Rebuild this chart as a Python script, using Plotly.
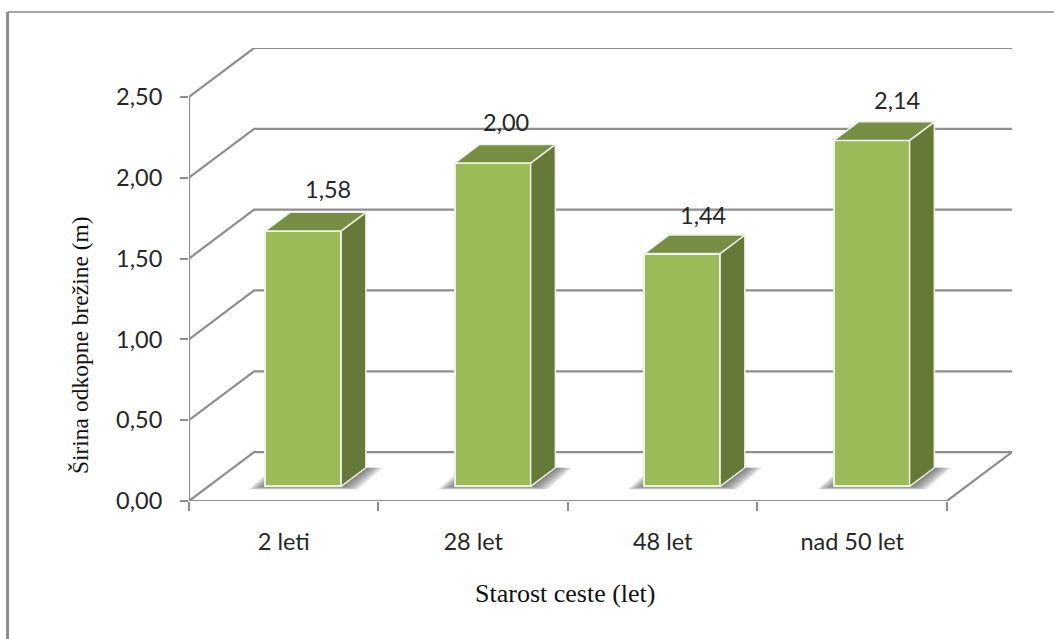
import plotly.graph_objects as go

# Chart data
categories = ["2 leti", "28 let", "48 let", "nad 50 let"]
widths_m = [1.58, 2.00, 1.44, 2.14]
value_ticks = [0.0, 0.5, 1.0, 1.5, 2.0, 2.5]
x_title = "Starost ceste (let)"
y_title = "Širina odkopne brežine (m)"

# Hand-placed value label nudges, in pixels
label_dx = [25, 13, 21, 25]
label_dy = [42, 41, 39, 40]

# Oblique projection: one unit of depth moves a point this far on each axis
DEPTH_X = 0.3435
DEPTH_Y = 0.3025
BAR_NEAR = 0.30
BAR_FAR = 0.68
BAR_WIDTH = 0.40

FRONT = "#9BBB59"
SIDE = "#657A37"
TOP = "#778F45"
EDGE = "#EEF1E6"
GRID = "#8E8E8E"
INK = "#262626"
LABEL_FONT = "Lato"
TITLE_FONT = "Liberation Serif"
LABEL_SIZE = 23.5


def project(x, value, depth):
    return x + depth * DEPTH_X, value + depth * DEPTH_Y


def polygon(points):
    xs, ys = zip(*(project(*p) for p in points))
    return list(xs) + [xs[0]], list(ys) + [ys[0]]


fig = go.Figure()


def add_line(points, width=2.2):
    xs, ys = zip(*(project(*p) for p in points))
    fig.add_trace(go.Scatter(x=list(xs), y=list(ys), mode="lines",
                             line=dict(color=GRID, width=width),
                             hoverinfo="skip", showlegend=False))


def add_face(points, color, line_color=None, line_width=0, axes=("x", "y")):
    xs, ys = polygon(points)
    fig.add_trace(go.Scatter(x=xs, y=ys, mode="lines", fill="toself",
                             fillcolor=color, xaxis=axes[0], yaxis=axes[1],
                             line=dict(color=line_color or color, width=line_width),
                             hoverinfo="skip", showlegend=False))


n = len(categories)

# Gridlines run along the side wall and across the back wall
for v in value_ticks[1:]:
    add_line([(0, v, 0), (0, v, 1), (n, v, 1)])

# Floor outline and the front axis lines
add_line([(0, 0, 0), (0, 0, 1), (n, 0, 1), (n, 0, 0), (0, 0, 0)])
add_line([(0, value_ticks[0], 0), (0, value_ticks[-1], 0)])

# Soft shadows on the floor, built from stacked translucent footprints
for i in range(n):
    left = i + 0.5 - BAR_WIDTH / 2
    right = i + 0.5 + BAR_WIDTH / 2
    for step in range(1, 17):
        grow = 0.092 * step / 16
        drop = 0.02 * step / 16
        add_face([(left - grow, -drop, BAR_NEAR), (right + grow, -drop, BAR_NEAR),
                  (right + grow, 0, BAR_FAR), (left - grow, 0, BAR_FAR)],
                 "rgba(70,70,70,0.065)")

# The columns sit on an overlaid pair of axes so they cover grid and shadow
COLUMN_AXES = ("x2", "y2")
base_x, base_y = project(0, 0, BAR_NEAR)
fig.add_trace(go.Bar(x=[i + 0.5 + base_x for i in range(n)], y=widths_m,
                     base=base_y, width=BAR_WIDTH, xaxis="x2", yaxis="y2",
                     marker=dict(color=FRONT, line=dict(color=EDGE, width=2)),
                     hoverinfo="skip", showlegend=False))

for i, value in enumerate(widths_m):
    left = i + 0.5 - BAR_WIDTH / 2
    right = i + 0.5 + BAR_WIDTH / 2
    add_face([(right, 0, BAR_NEAR), (right, 0, BAR_FAR),
              (right, value, BAR_FAR), (right, value, BAR_NEAR)],
             SIDE, EDGE, 1.5, COLUMN_AXES)
    add_face([(left, value, BAR_NEAR), (right, value, BAR_NEAR),
              (right, value, BAR_FAR), (left, value, BAR_FAR)],
             TOP, EDGE, 1.5, COLUMN_AXES)

# Value labels
for i, value in enumerate(widths_m):
    fig.add_annotation(x=i + 0.5 + base_x, y=value + base_y,
                       text=f"{value:.2f}".replace(".", ","),
                       showarrow=False, xshift=label_dx[i], yshift=label_dy[i],
                       font=dict(family=LABEL_FONT, size=LABEL_SIZE, color=INK))

# Axis titles
fig.add_annotation(text=x_title, xref="paper", yref="paper", x=0.458, y=-0.205,
                   xanchor="center", yanchor="middle", showarrow=False,
                   font=dict(family=TITLE_FONT, size=26, color="#111111"))
fig.add_annotation(text=y_title, xref="paper", yref="paper", x=-0.1325, y=0.344,
                   xanchor="center", yanchor="middle", showarrow=False, textangle=-90,
                   font=dict(family=TITLE_FONT, size=23.5, color="#111111"))

x_range = [0, n + DEPTH_X]
y_range = [0, value_ticks[-1] + DEPTH_Y]

fig.update_layout(
    width=1054, height=639, autosize=False,
    margin=dict(l=189, r=42, t=48, b=138),
    paper_bgcolor="white", plot_bgcolor="white",
    separators=", ",
    bargap=0,
    shapes=[dict(type="line", xref="paper", yref="paper", layer="below",
                 x0=-0.2205, x1=1.051, y0=1.0795, y1=1.0795,
                 line=dict(color="#8A8A8A", width=1.5)),
            dict(type="line", xref="paper", yref="paper", layer="below",
                 x0=-0.2205, x1=-0.2205, y0=1.0795, y1=-0.31,
                 line=dict(color="#8F8F8F", width=3))],
    xaxis=dict(range=x_range, showgrid=False, zeroline=False,
               tickvals=[i + 0.5 for i in range(n)], ticktext=categories,
               ticks="", ticklabelstandoff=24,
               tickfont=dict(family=LABEL_FONT, size=LABEL_SIZE, color=INK),
               minor=dict(tickvals=list(range(n + 1)), ticks="outside", ticklen=9,
                          tickwidth=2, tickcolor=GRID, showgrid=False)),
    yaxis=dict(range=y_range, showgrid=False, zeroline=False,
               tickvals=value_ticks, tickformat=".2f", ticks="outside", ticklen=8,
               tickwidth=2, tickcolor=GRID, ticklabelstandoff=13,
               tickfont=dict(family=LABEL_FONT, size=LABEL_SIZE, color=INK)),
    xaxis2=dict(range=x_range, overlaying="x", visible=False),
    yaxis2=dict(range=y_range, overlaying="y", visible=False),
)

fig.write_html("out.html")
